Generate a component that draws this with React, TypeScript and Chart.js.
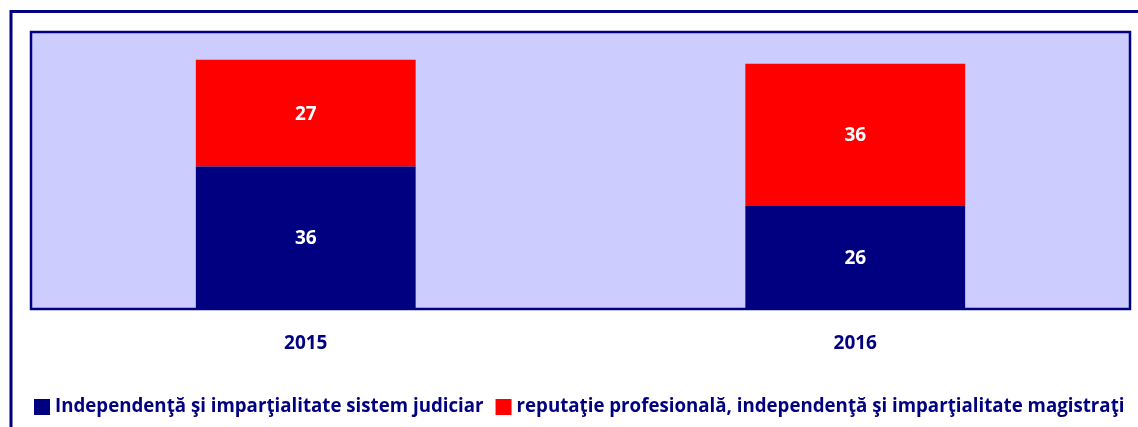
import React, { useEffect, useRef } from "react";
import { Chart, registerables } from "chart.js";

Chart.register(...registerables);

const categories = ["2015", "2016"];
const seriesNames = [
  "Independenţă şi imparţialitate sistem judiciar",
  "reputaţie profesională, independenţă şi imparţialitate magistraţi",
];
const seriesJudiciar = [36, 26];
const seriesMagistrati = [27, 36];
const seriesColors = ["#000080", "#FF0000"];

const NAVY = "#000080";
const FONT = "'Open Sans', 'Noto Sans', sans-serif";
const FONT_SIZE = 19;
const LEGEND_FONT_SIZE = 18.7;

export default function App() {
  const ref = useRef<HTMLCanvasElement | null>(null);

  useEffect(() => {
    const canvas = ref.current;
    if (!canvas) return;

    const decorPlugin = {
      id: "decor",
      beforeDraw(chart: any) {
        const { ctx, chartArea } = chart;
        ctx.save();
        ctx.fillStyle = "#FFFFFF";
        ctx.fillRect(0, 0, chart.width, chart.height);
        // outer frame
        ctx.strokeStyle = NAVY;
        ctx.lineWidth = 3;
        ctx.beginPath();
        ctx.moveTo(11, chart.height + 5);
        ctx.lineTo(11, 11.5);
        ctx.lineTo(chart.width + 5, 11.5);
        ctx.stroke();
        // plot background
        ctx.fillStyle = "#CCCCFF";
        ctx.fillRect(
          chartArea.left,
          chartArea.top,
          chartArea.right - chartArea.left,
          chartArea.bottom - chartArea.top
        );
        ctx.restore();
      },
      afterDatasetsDraw(chart: any) {
        const { ctx, chartArea } = chart;
        ctx.save();
        // plot border
        ctx.strokeStyle = NAVY;
        ctx.lineWidth = 2.5;
        ctx.strokeRect(
          chartArea.left,
          chartArea.top,
          chartArea.right - chartArea.left,
          chartArea.bottom - chartArea.top
        );
        // value labels
        ctx.fillStyle = "#FFFFFF";
        ctx.font = `bold ${FONT_SIZE}px ${FONT}`;
        ctx.textAlign = "center";
        ctx.textBaseline = "middle";
        chart.data.datasets.forEach((ds: any, di: number) => {
          const meta = chart.getDatasetMeta(di);
          meta.data.forEach((el: any, i: number) => {
            const p = el.getProps(["x", "y", "base"], true);
            ctx.fillText(String(ds.data[i]), p.x, (p.y + p.base) / 2 + 1);
          });
        });
        // legend
        ctx.font = `bold ${LEGEND_FONT_SIZE}px ${FONT}`;
        let x = 34;
        const y = 407;
        ctx.textAlign = "left";
        chart.data.datasets.forEach((ds: any) => {
          ctx.fillStyle = ds.backgroundColor;
          ctx.fillRect(x, y - 8, 16, 16);
          x += 21;
          ctx.fillStyle = NAVY;
          ctx.fillText(ds.label, x, y);
          x += ctx.measureText(ds.label).width + 12;
        });
        ctx.restore();
      },
    };

    const chart = new Chart(canvas, {
      type: "bar",
      data: {
        labels: categories,
        datasets: [
          {
            label: seriesNames[0],
            data: seriesJudiciar,
            backgroundColor: seriesColors[0],
            borderWidth: 0,
          },
          {
            label: seriesNames[1],
            data: seriesMagistrati,
            backgroundColor: seriesColors[1],
            borderWidth: 0,
          },
        ],
      },
      options: {
        responsive: false,
        animation: false,
        layout: { padding: { left: 31, right: 8, top: 32, bottom: 58 } },
        plugins: {
          legend: { display: false },
          tooltip: { enabled: false },
        },
        datasets: {
          bar: { categoryPercentage: 1, barPercentage: 0.4 },
        },
        scales: {
          x: {
            stacked: true,
            grid: { display: false, drawTicks: false },
            border: { display: false },
            ticks: {
              color: NAVY,
              font: { family: FONT, size: FONT_SIZE, weight: "bold" },
              padding: 23,
            },
            afterFit(scale: any) {
              scale.height = 60;
            },
          },
          y: {
            stacked: true,
            min: 0,
            max: 70,
            display: false,
          },
        },
      },
      plugins: [decorPlugin],
    });

    return () => chart.destroy();
  }, []);

  return (
    <div style={{ position: "absolute", left: 0, top: 0, width: 1138, height: 427 }}>
      <canvas ref={ref} width={1138} height={427} style={{ display: "block" }} />
    </div>
  );
}
